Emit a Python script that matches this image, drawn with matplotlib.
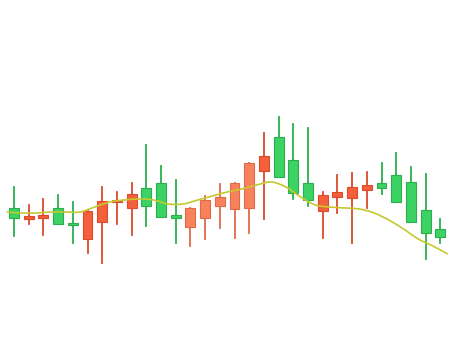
import matplotlib
matplotlib.use("Agg")
import matplotlib.pyplot as plt
from matplotlib.path import Path
from matplotlib.patches import PathPatch
import numpy as np

opens  = [130, 119, 120, 130, 115,  99, 116, 136, 130, 150, 155, 123, 111, 120, 132,
          129, 130, 167, 201, 178, 155, 127, 141, 140, 148, 155, 163, 156, 128, 109]
closes = [120, 122, 123, 114, 113, 127, 137, 138, 144, 132, 121, 120, 130, 138, 141,
          155, 175, 182, 161, 145, 138, 143, 146, 151, 153, 150, 136, 116, 105, 101]
highs  = [151, 133, 139, 143, 136, 127, 151, 146, 155, 193, 172, 158, 130, 142, 154,
          155, 175, 205, 221, 214, 210, 146, 163, 165, 166, 175, 185, 171, 164, 119]
lows   = [102, 114, 103, 114,  95,  85,  75, 114, 103, 112, 121,  95,  92,  99, 110,
          100, 105, 119, 161, 139, 132, 100, 125,  95, 130, 144, 136, 116,  79,  95]
# moving average, sampled between candles
ma = [126, 125, 125, 126, 126, 126, 131, 136, 138, 139, 138, 134, 134, 138, 142, 146,
      149, 153, 156, 151, 141, 133, 131, 130, 129, 125, 118, 109, 99, 92, 84]

fig = plt.figure(figsize=(4.5, 3.38), dpi=100)
ax = fig.add_axes([0, 0, 1, 1])

x = np.arange(len(opens))
for i in x:
    o, c, h, l = opens[i], closes[i], highs[i], lows[i]
    if c >= o:
        face, edge = "#f4603c", "#dc4a2c"
        if 12 <= i <= 16:
            face, edge = "#f8825c", "#e06a48"
    else:
        face, edge = "#3cd264", "#2cae4e"
    ax.plot([i, i], [l, h], color=edge, lw=1.3, zorder=2)
    bottom = min(o, c)
    height = max(abs(c - o), 1.5)
    ax.add_patch(plt.Rectangle((i - 0.34, bottom), 0.68, height,
                               facecolor=face, edgecolor=edge, lw=0.8, zorder=3))

# smooth MA line drawn as bezier segments through the points
xm = np.arange(len(ma)) - 0.5
pts = np.column_stack([xm, ma]).astype(float)
verts = [pts[0]]
codes = [Path.MOVETO]
for j in range(len(pts) - 1):
    p0 = pts[max(j - 1, 0)]
    p1 = pts[j]
    p2 = pts[j + 1]
    p3 = pts[min(j + 2, len(pts) - 1)]
    verts += [p1 + (p2 - p0) / 6, p2 - (p3 - p1) / 6, p2]
    codes += [Path.CURVE4] * 3
ax.add_patch(PathPatch(Path(verts, codes), facecolor="none",
                       edgecolor="#c6c830", lw=1.2, zorder=4))

ax.set_xlim(-14 / 14.7, 436 / 14.7)
ax.set_ylim(0, 338)
ax.axis("off")
fig.savefig("out.png", dpi=100)
